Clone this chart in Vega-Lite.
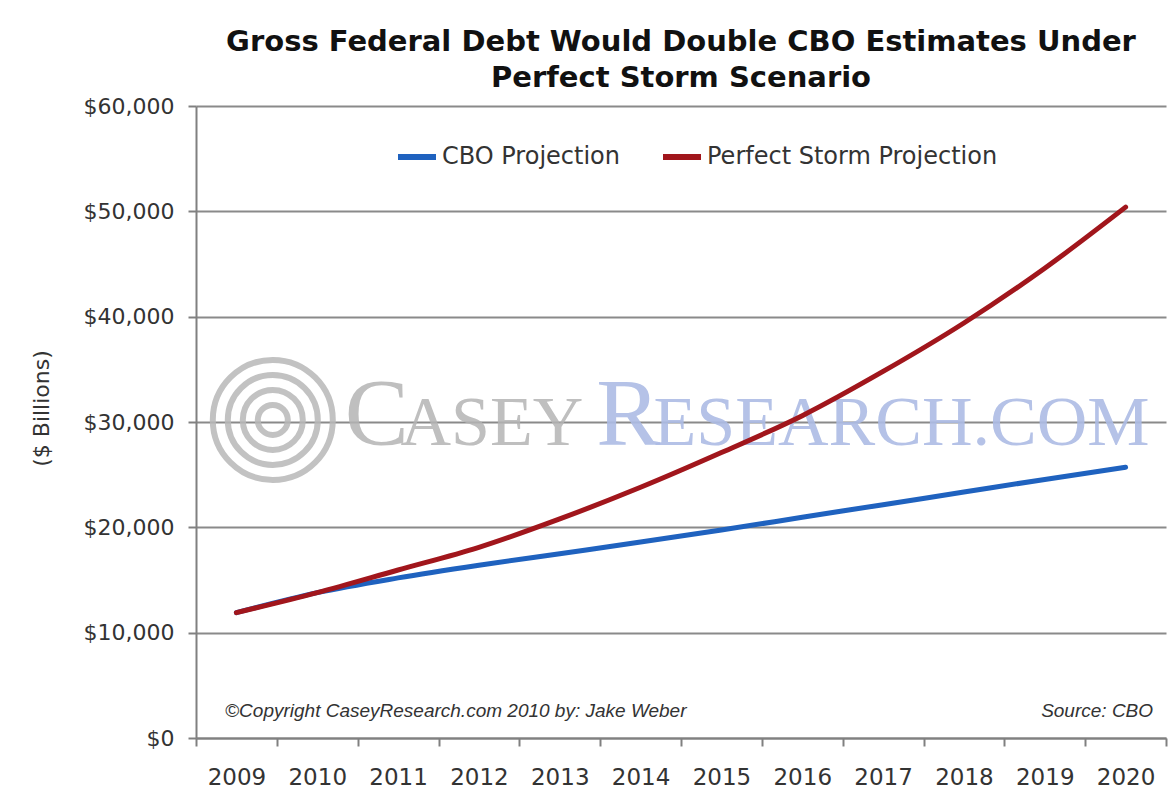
{
  "$schema": "https://vega.github.io/schema/vega-lite/v6.json",
  "width": 970,
  "height": 632,
  "autosize": {"type": "none"},
  "padding": {"left": 196, "top": 106, "right": 9, "bottom": 67},
  "background": "white",
  "title": {
    "text": ["Gross Federal Debt Would Double CBO Estimates Under", "Perfect Storm Scenario"],
    "font": "DejaVu Sans",
    "fontSize": 29,
    "fontWeight": "bold",
    "color": "#111111",
    "anchor": "middle",
    "frame": "group",
    "lineHeight": 36,
    "offset": 2
  },
  "config": {
    "view": {"stroke": null},
    "font": "DejaVu Sans"
  },
  "encoding": {
    "x": {
      "field": "year",
      "type": "ordinal",
      "scale": {"domain": ["2009","2010","2011","2012","2013","2014","2015","2016","2017","2018","2019","2020"], "paddingInner": 0, "paddingOuter": 0},
      "axis": {
        "title": null,
        "labelAngle": 0,
        "labelFont": "DejaVu Sans",
        "labelFontSize": 23,
        "labelColor": "#333333",
        "labelPadding": 20,
        "tickBand": "extent",
        "tickSize": 8,
        "tickColor": "#808080",
        "tickWidth": 2,
        "domainColor": "#808080",
        "domainWidth": 2,
        "grid": false
      }
    },
    "y": {
      "field": "value",
      "type": "quantitative",
      "scale": {"domain": [0, 60000], "nice": false},
      "axis": {
        "title": "($ Billions)",
        "titleFont": "DejaVu Sans",
        "titleFontSize": 22,
        "titleFontWeight": "normal",
        "titleColor": "#333333",
        "titlePadding": 30,
        "titleY": 302,
        "values": [0, 10000, 20000, 30000, 40000, 50000, 60000],
        "format": "$,.0f",
        "labelFont": "DejaVu Sans",
        "labelFontSize": 22,
        "labelColor": "#333333",
        "labelPadding": 14,
        "tickSize": 8,
        "tickColor": "#808080",
        "tickWidth": 2,
        "domainColor": "#808080",
        "domainWidth": 2,
        "grid": true,
        "gridColor": "#8a8a8a",
        "gridWidth": 2
      }
    }
  },
  "layer": [
    {
      "data": {"values": [{"year": "2009", "value": 30200, "d": 14400}, {"year": "2009", "value": 30200, "d": 8100}, {"year": "2009", "value": 30200, "d": 3600}, {"year": "2009", "value": 30200, "d": 900}]},
      "mark": {"type": "point", "shape": "circle", "filled": false, "stroke": "#b8b8b8", "strokeWidth": 6, "opacity": 0.85},
      "encoding": {
        "x": {"field": "year", "type": "ordinal", "bandPosition": 0.95},
        "size": {"field": "d", "type": "quantitative", "scale": null, "legend": null}
      }
    },
    {
      "data": {"values": [{"year": "2010", "value": 27800, "t": "C"}]},
      "mark": {"type": "text", "font": "Liberation Serif", "fontSize": 96, "color": "#b4b4b4", "opacity": 0.85, "align": "left", "baseline": "alphabetic"},
      "encoding": {"x": {"field": "year", "type": "ordinal", "bandPosition": 0.84}, "text": {"field": "t"}}
    },
    {
      "data": {"values": [{"year": "2011", "value": 27800, "t": "ASEY"}]},
      "mark": {"type": "text", "font": "Liberation Serif", "fontSize": 70, "color": "#b4b4b4", "opacity": 0.85, "align": "left", "baseline": "alphabetic"},
      "encoding": {"x": {"field": "year", "type": "ordinal", "bandPosition": 0.53}, "text": {"field": "t"}}
    },
    {
      "data": {"values": [{"year": "2013", "value": 27800, "t": "R"}]},
      "mark": {"type": "text", "font": "Liberation Serif", "fontSize": 96, "color": "#adbce5", "opacity": 0.9, "align": "left", "baseline": "alphabetic"},
      "encoding": {"x": {"field": "year", "type": "ordinal", "bandPosition": 0.95}, "text": {"field": "t"}}
    },
    {
      "data": {"values": [{"year": "2014", "value": 27800, "t": "ESEARCH.COM"}]},
      "mark": {"type": "text", "font": "Liberation Serif", "fontSize": 70, "color": "#adbce5", "opacity": 0.9, "align": "left", "baseline": "alphabetic"},
      "encoding": {"x": {"field": "year", "type": "ordinal", "bandPosition": 0.66}, "text": {"field": "t"}}
    },
    {
      "data": {"values": [{"year": "2009", "value": 2000, "t": "©Copyright CaseyResearch.com 2010 by: Jake Weber"}]},
      "mark": {"type": "text", "font": "Liberation Sans", "fontSize": 19, "fontStyle": "italic", "color": "#333333", "align": "left", "baseline": "alphabetic"},
      "encoding": {"x": {"field": "year", "type": "ordinal", "bandPosition": 0.36}, "text": {"field": "t"}}
    },
    {
      "data": {"values": [{"year": "2020", "value": 2000, "t": "Source: CBO"}]},
      "mark": {"type": "text", "font": "Liberation Sans", "fontSize": 19, "fontStyle": "italic", "color": "#333333", "align": "right", "baseline": "alphabetic"},
      "encoding": {"x": {"field": "year", "type": "ordinal", "bandPosition": 0.84}, "text": {"field": "t"}}
    },
    {
      "data": {"values": [
        {"year": "2009", "series": "CBO Projection", "value": 11900},
        {"year": "2010", "series": "CBO Projection", "value": 13800},
        {"year": "2011", "series": "CBO Projection", "value": 15200},
        {"year": "2012", "series": "CBO Projection", "value": 16400},
        {"year": "2013", "series": "CBO Projection", "value": 17500},
        {"year": "2014", "series": "CBO Projection", "value": 18600},
        {"year": "2015", "series": "CBO Projection", "value": 19750},
        {"year": "2016", "series": "CBO Projection", "value": 20950},
        {"year": "2017", "series": "CBO Projection", "value": 22150},
        {"year": "2018", "series": "CBO Projection", "value": 23350},
        {"year": "2019", "series": "CBO Projection", "value": 24550},
        {"year": "2020", "series": "CBO Projection", "value": 25700},
        {"year": "2009", "series": "Perfect Storm Projection", "value": 11900},
        {"year": "2010", "series": "Perfect Storm Projection", "value": 13800},
        {"year": "2011", "series": "Perfect Storm Projection", "value": 15950},
        {"year": "2012", "series": "Perfect Storm Projection", "value": 18100},
        {"year": "2013", "series": "Perfect Storm Projection", "value": 20800},
        {"year": "2014", "series": "Perfect Storm Projection", "value": 23800},
        {"year": "2015", "series": "Perfect Storm Projection", "value": 27100},
        {"year": "2016", "series": "Perfect Storm Projection", "value": 30600},
        {"year": "2017", "series": "Perfect Storm Projection", "value": 34800},
        {"year": "2018", "series": "Perfect Storm Projection", "value": 39400},
        {"year": "2019", "series": "Perfect Storm Projection", "value": 44600},
        {"year": "2020", "series": "Perfect Storm Projection", "value": 50400}
      ]},
      "mark": {"type": "line", "strokeWidth": 5, "interpolate": "monotone", "strokeCap": "round"},
      "encoding": {
        "color": {
          "field": "series",
          "type": "nominal",
          "scale": {"domain": ["CBO Projection", "Perfect Storm Projection"], "range": ["#1f62bf", "#a1161c"]},
          "legend": {
            "title": null,
            "orient": "none",
            "direction": "horizontal",
            "legendX": 199,
            "legendY": 29,
            "symbolType": "stroke",
            "symbolSize": 1444,
            "symbolStrokeWidth": 6,
            "labelFont": "DejaVu Sans",
            "labelFontSize": 24,
            "labelColor": "#333333",
            "labelOffset": 3,
            "columnPadding": 31,
            "labelLimit": 400
          }
        }
      }
    }
  ]
}
